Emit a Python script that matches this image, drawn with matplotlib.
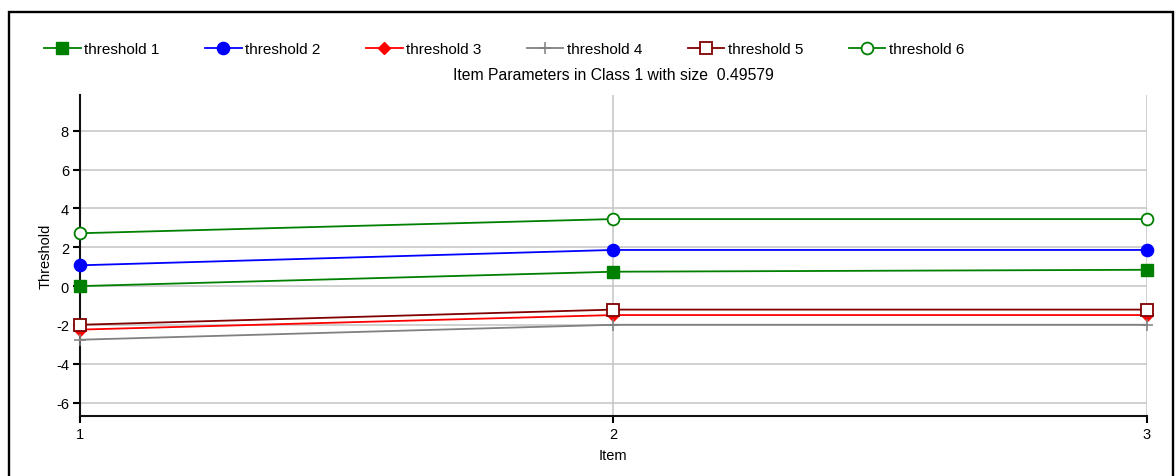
import matplotlib
matplotlib.use("Agg")
import matplotlib.pyplot as plt
from matplotlib.patches import Rectangle

plt.rcParams['font.family'] = ['Liberation Sans', 'DejaVu Sans']
plt.rcParams['axes.unicode_minus'] = False

# item parameters, class 1
items = [1, 2, 3]
threshold_1 = [0.0, 0.74, 0.84]
threshold_2 = [1.07, 1.86, 1.86]
threshold_3 = [-2.24, -1.49, -1.49]
threshold_4 = [-2.76, -1.99, -1.99]
threshold_5 = [-1.99, -1.21, -1.21]
threshold_6 = [2.72, 3.45, 3.45]
series_names = ["threshold 1", "threshold 2", "threshold 3",
                "threshold 4", "threshold 5", "threshold 6"]
y_ticks = [-6, -4, -2, 0, 2, 4, 6, 8]
title = "Item Parameters in Class 1 with size  0.49579"

styles = [
    dict(color="#008000", marker="s", mfc="#008000", ms=8.5),
    dict(color="#0000ff", marker="o", mfc="#0000ff", ms=8.8),
    dict(color="#ff0000", marker="D", mfc="#ff0000", ms=6.5),
    dict(color="#808080", marker="+", mfc="#808080", ms=8.5, mew=1.1),
    dict(color="#800000", marker="s", mfc="white", ms=8.0, mew=1.3),
    dict(color="#008000", marker="o", mfc="white", ms=8.5, mew=1.3),
]

fig = plt.figure(figsize=(11.75, 4.77), dpi=100)
ax = fig.add_axes([80 / 1175, 1 - 416.7 / 477, 1066.7 / 1175, 321 / 477])

all_series = [threshold_1, threshold_2, threshold_3,
              threshold_4, threshold_5, threshold_6]
handles = []
for name, vals, st in zip(series_names, all_series, styles):
    h, = ax.plot(items, vals, lw=1.3, clip_on=False, zorder=3,
                 label=name, mec=st["color"], **st)
    handles.append(h)

ax.set_xlim(1, 3)
ax.set_ylim(-6.67, 9.85)
ax.set_xticks(items)
ax.set_yticks(y_ticks)
ax.grid(True, color="#c8c8c8", lw=1.2, zorder=0)
ax.set_axisbelow(True)

for side in ("top", "right"):
    ax.spines[side].set_visible(False)
for side in ("left", "bottom"):
    ax.spines[side].set_linewidth(1.5)
    ax.spines[side].set_color("#111111")
ax.tick_params(direction="out", length=5, width=1.5, labelsize=10.5,
               colors="black", pad=3)

ax.set_xlabel("Item", fontsize=10.5, labelpad=5)
ax.set_ylabel("Threshold", fontsize=10.5, labelpad=2)

fig.text(613 / 1175, 1 - 75.5 / 477, title, ha="center", va="center",
         fontsize=11.3)

fig.legend(handles=handles, loc="center left",
           bbox_to_anchor=(44 / 1175, 1 - 50 / 477), ncol=6,
           frameon=False, fontsize=11, handlelength=2.4,
           handletextpad=0.25, columnspacing=2.95, borderpad=0,
           borderaxespad=0)

# outer border of the panel
fig.patches.append(Rectangle((8.7 / 1175, -0.05), (1173.2 - 8.7) / 1175,
                             1 - 13.3 / 477 + 0.05, transform=fig.transFigure,
                             fill=False, ec="black", lw=1.7, clip_on=False))

fig.savefig("out.png", dpi=100)
